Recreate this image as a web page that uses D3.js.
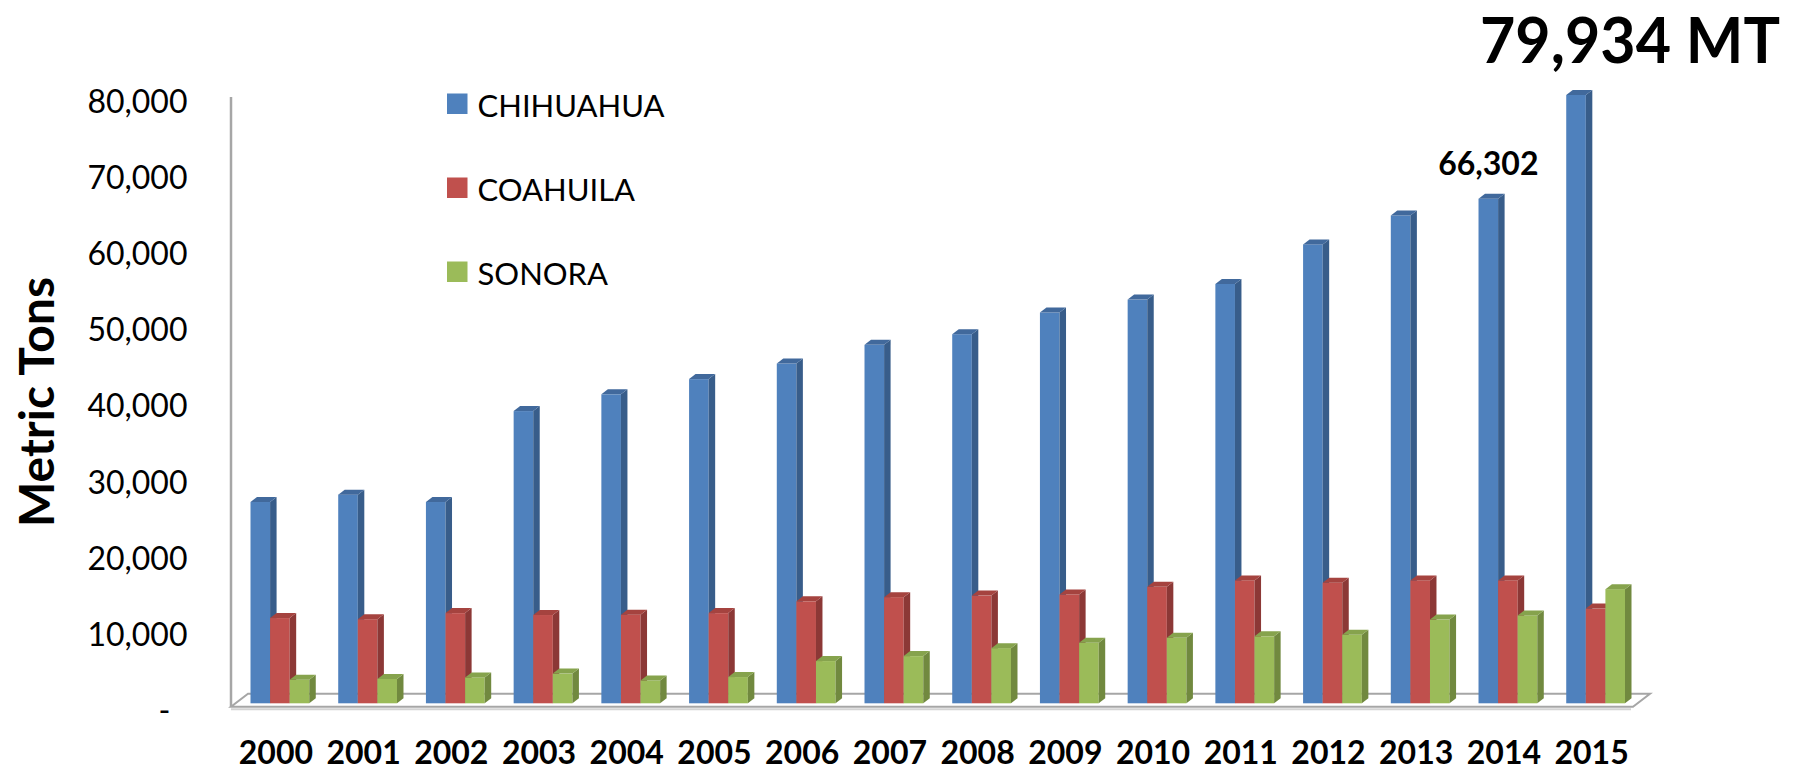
<!DOCTYPE html>
<html>
<head>
<meta charset="utf-8">
<script src="https://cdnjs.cloudflare.com/ajax/libs/d3/7.8.5/d3.min.js"></script>
<style>
body { margin: 0; background: #fff; }
svg { display: block; font-family: Lato, sans-serif; }
</style>
</head>
<body>
<div id="chart"></div>
<script>
var years = ['2000', '2001', '2002', '2003', '2004', '2005', '2006', '2007',
             '2008', '2009', '2010', '2011', '2012', '2013', '2014', '2015']
var chihuahua = [26450, 27420, 26450, 38400, 40600, 42600, 44650, 47100,
                 48500, 51350, 53050, 55100, 60300, 64100, 66302, 79934]
var coahuila = [11200, 11050, 11850, 11600, 11650, 11850, 13400, 13950,
                14150, 14300, 15300, 16150, 15850, 16150, 16150, 12450]
var sonora = [3100, 3200, 3400, 3900, 3000, 3450, 5550, 6200,
              7250, 7950, 8600, 8800, 9000, 11000, 11550, 15000]
var names = ['CHIHUAHUA', 'COAHUILA', 'SONORA']
var yTicks = [0, 10000, 20000, 30000, 40000, 50000, 60000, 70000, 80000]
var labelYear = '2014'
var title = '79,934 MT'
var yTitle = 'Metric Tons'

var front = ['#4f81bd', '#c0504d', '#9bbb59']
var side = ['#385d8a', '#8c3836', '#71893f']
var top_ = ['#41699c', '#a5433f', '#86a34d']

var fmt = d3.format(',')

var svg = d3.select('#chart').append('svg')
  .attr('width', 1795).attr('height', 771)

var x = d3.scaleBand().domain(years).range([250.5, 1625]).paddingInner(0.33).paddingOuter(0)
var xs = d3.scaleBand().domain(names).range([0, x.bandwidth()])
var y = d3.scaleLinear().domain([0, 80000]).range([703.3, 94.5])

// 3d offsets
var bd = {dx: 6.5, dy: -5}
var fd = {dx: 17, dy: -13}

// floor + left wall edge
var fl = x.range()[0] - 19.5, fr = x.range()[1] + 8, fy = y(0) + 3.5
svg.append('line')
  .attr('x1', fl).attr('x2', fr - 2).attr('y1', fy + 2.5).attr('y2', fy + 2.5)
  .attr('stroke', '#d4d4d4').attr('stroke-width', 2)
svg.append('path')
  .attr('d', 'M' + fl + ',' + fy + 'L' + fr + ',' + fy + 'L' + (fr + fd.dx) + ',' + (fy + fd.dy) +
    'L' + (fl + fd.dx) + ',' + (fy + fd.dy) + 'Z')
  .attr('fill', '#fff').attr('stroke', '#a6a6a6').attr('stroke-width', 2)
svg.append('line')
  .attr('x1', fl).attr('x2', fl).attr('y1', y(80000) + 2.5).attr('y2', fy)
  .attr('stroke', '#a6a6a6').attr('stroke-width', 2.5)

var rows = []
years.forEach(function(yr, i){
  [chihuahua, coahuila, sonora].forEach(function(vals, j){
    rows.push({year: yr, name: names[j], v: vals[i], j: j})
  })
})

var bars = svg.append('g').selectAll('g').data(rows).join('g')
  .attr('transform', function(d){ return 'translate(' + (x(d.year) + xs(d.name)) + ',0)' })

var w = xs.bandwidth()
bars.append('rect')
  .attr('y', function(d){ return y(d.v) })
  .attr('width', w)
  .attr('height', function(d){ return y(0) - y(d.v) })
  .attr('fill', function(d){ return front[d.j] })
bars.append('path')
  .attr('d', function(d){
    var t = y(d.v), b = y(0)
    return 'M' + w + ',' + b + 'L' + w + ',' + t + 'L' + (w + bd.dx) + ',' + (t + bd.dy) +
      'L' + (w + bd.dx) + ',' + (b + bd.dy) + 'Z'
  })
  .attr('fill', function(d){ return side[d.j] })
bars.append('path')
  .attr('d', function(d){
    var t = y(d.v)
    return 'M0,' + t + 'L' + bd.dx + ',' + (t + bd.dy) + 'L' + (w + bd.dx) + ',' + (t + bd.dy) +
      'L' + w + ',' + t + 'Z'
  })
  .attr('fill', function(d){ return top_[d.j] })

// y axis
var ya = svg.append('g').attr('transform', 'translate(187.5,0)')
  .call(d3.axisLeft(y).tickValues(yTicks).tickSize(0).tickPadding(0)
    .tickFormat(function(d){ return d ? fmt(d) : '-' }))
ya.select('.domain').remove()
ya.selectAll('text')
  .attr('dy', null).attr('y', 18)
  .attr('x', function(d){ return d ? 0 : -17 })
  .attr('font-family', 'Lato, sans-serif').attr('font-size', 32).attr('fill', '#000')

// x axis
var xa = svg.append('g').attr('transform', 'translate(-4,0)')
  .call(d3.axisBottom(x).tickSize(0))
xa.select('.domain').remove()
xa.selectAll('text')
  .attr('dy', null).attr('y', 763.5)
  .attr('font-family', 'Lato, sans-serif').attr('font-size', 32)
  .attr('font-weight', 'bold').attr('fill', '#000')

// legend
var lg = svg.append('g').selectAll('g').data(names).join('g')
  .attr('transform', function(d, i){ return 'translate(447,' + (93.5 + i * 84) + ')' })
lg.append('rect').attr('width', 20.5).attr('height', 20.5)
  .attr('fill', function(d, i){ return front[i] })
lg.append('text').attr('x', 30.5).attr('y', 23)
  .attr('font-size', 31).attr('fill', '#000')
  .text(function(d){ return d })

// labels
var iy = years.indexOf(labelYear)
svg.append('text')
  .attr('x', x(labelYear) + xs(names[0]) + w / 2)
  .attr('y', y(chihuahua[iy]) - 23.7)
  .attr('text-anchor', 'middle').attr('font-size', 32).attr('font-weight', 'bold')
  .text(fmt(chihuahua[iy]))

svg.append('text')
  .attr('x', 1480).attr('y', 63)
  .attr('textLength', 300).attr('lengthAdjust', 'spacingAndGlyphs')
  .attr('font-size', 63).attr('font-weight', 'bold')
  .text(title)

svg.append('text')
  .attr('transform', 'translate(53.5,402) rotate(-90)')
  .attr('text-anchor', 'middle').attr('font-size', 48).attr('font-weight', 'bold')
  .text(yTitle)
</script>
</body>
</html>
